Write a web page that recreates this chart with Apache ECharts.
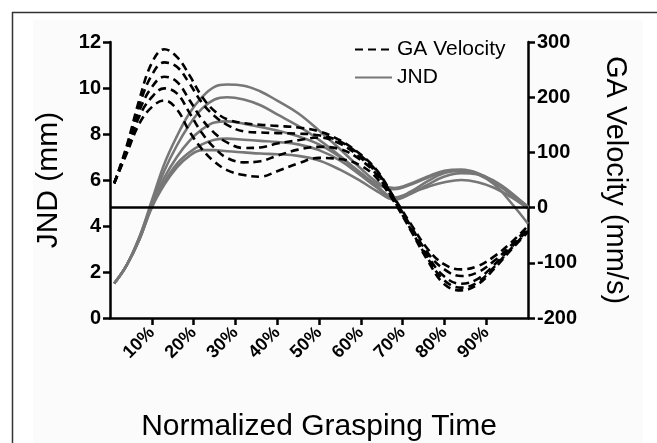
<!DOCTYPE html>
<html>
<head>
<meta charset="utf-8">
<script src="https://cdn.jsdelivr.net/npm/echarts@6/dist/echarts.min.js"></script>
<style>
  html, body { margin: 0; padding: 0; background: #fff; }
  #chart { width: 657px; height: 443px; }
</style>
</head>
<body>
<div id="chart"></div>
<script>
'use strict';

// normalized grasping time (%)
const timePct = [1, 4, 7, 10, 13, 16, 19, 22, 25, 28, 32, 36, 40, 45, 50, 55, 60, 64, 68, 72, 76, 80, 84, 88, 92, 96, 100];
const xTickValues = [10, 20, 30, 40, 50, 60, 70, 80, 90];

// GA velocity (mm/s), right axis
const velA = [44, 112, 195, 262, 287, 273, 240, 201, 175, 160, 153, 150, 148, 145, 138, 122, 96, 66, 18, -30, -75, -103, -112, -106, -88, -63, -33];
const velB = [44, 108, 185, 240, 263, 255, 225, 190, 166, 150, 138, 136, 135, 134, 131, 120, 94, 64, 16, -34, -82, -112, -124, -117, -96, -68, -36];
const velC = [44, 105, 175, 218, 237, 228, 195, 160, 135, 118, 108, 109, 116, 122, 127, 116, 90, 61, 14, -38, -88, -125, -138, -129, -103, -72, -40];
const velD = [44, 102, 165, 200, 216, 207, 172, 135, 108, 90, 82, 84, 94, 105, 110, 106, 86, 58, 12, -40, -92, -132, -145, -135, -107, -74, -42];
const velE = [44, 98, 152, 182, 194, 178, 138, 106, 83, 68, 59, 56, 66, 80, 90, 88, 76, 52, 10, -42, -96, -139, -150, -139, -110, -76, -44];

// JND (mm), left axis
const jnd1 = [1.5, 2.3, 3.5, 5.1, 6.7, 7.9, 8.9, 9.6, 10.05, 10.15, 10.1, 9.85, 9.45, 8.9, 8.15, 7.35, 6.5, 5.9, 5.65, 5.85, 6.15, 6.4, 6.45, 6.3, 5.9, 5.35, 4.8];
const jnd2 = [1.5, 2.3, 3.5, 5.0, 6.4, 7.5, 8.4, 9.1, 9.5, 9.6, 9.5, 9.25, 8.85, 8.35, 7.75, 7.05, 6.3, 5.8, 5.6, 5.8, 6.1, 6.35, 6.4, 6.25, 5.9, 5.4, 4.85];
const jnd3 = [1.5, 2.3, 3.4, 4.9, 6.1, 7.0, 7.7, 8.2, 8.5, 8.55, 8.45, 8.3, 8.15, 7.9, 7.55, 7.0, 6.3, 5.7, 5.25, 5.45, 5.7, 5.9, 6.0, 5.9, 5.65, 5.25, 4.75];
const jnd4 = [1.5, 2.3, 3.4, 4.85, 5.9, 6.7, 7.2, 7.55, 7.75, 7.8, 7.75, 7.7, 7.65, 7.55, 7.3, 6.85, 6.2, 5.65, 5.2, 5.5, 5.95, 6.3, 6.4, 6.25, 5.8, 5.0, 4.1];
const jnd5 = [1.5, 2.3, 3.4, 4.8, 5.8, 6.55, 7.05, 7.3, 7.3, 7.25, 7.2, 7.15, 7.12, 7.05, 6.85, 6.45, 5.95, 5.5, 5.15, 5.4, 5.8, 6.15, 6.3, 6.25, 5.95, 5.45, 4.8];

const velocityLines = [velA, velB, velC, velD, velE];
const jndLines = [jnd1, jnd2, jnd3, jnd4, jnd5];

const FONT = '"Liberation Sans", Arial, Helvetica, sans-serif';
const GRAY = '#777777';

function pairs(values) {
  return timePct.map((t, i) => [t, values[i]]);
}

const series = [];
jndLines.forEach(vals => {
  series.push({
    name: 'JND',
    type: 'line',
    yAxisIndex: 0,
    data: pairs(vals),
    smooth: 0.4,
    symbol: 'none',
    lineStyle: { color: GRAY, width: 2.6 },
    itemStyle: { color: GRAY },
    z: 2
  });
});
velocityLines.forEach((vals, i) => {
  const s = {
    name: 'GA Velocity',
    type: 'line',
    yAxisIndex: 1,
    data: pairs(vals),
    smooth: 0.4,
    symbol: 'none',
    lineStyle: { color: '#000', width: 2.6, type: [8, 5] },
    itemStyle: { color: '#000' },
    z: 3
  };
  if (i === 0) {
    // velocity zero line
    s.markLine = {
      silent: true,
      symbol: ['none', 'none'],
      label: { show: false },
      lineStyle: { color: '#000', width: 2.5, type: 'solid' },
      data: [{ yAxis: 0 }]
    };
  }
  series.push(s);
});

const axisLine = { show: true, lineStyle: { color: '#000', width: 2.5 } };
const axisTick = { show: true, length: 7, lineStyle: { color: '#000', width: 2.5 } };
const tickLabel = { color: '#000', fontFamily: FONT, fontWeight: 'bold', fontSize: 20 };

const chart = echarts.init(document.getElementById('chart'), null, { renderer: 'canvas' });
chart.setOption({
  animation: false,
  backgroundColor: '#fff',
  textStyle: { fontFamily: FONT },
  graphic: [
    { type: 'rect', silent: true, z: -10, shape: { x: 33, y: 20, width: 610, height: 430 }, style: { fill: '#fbfbfb' } },
    { type: 'line', silent: true, shape: { x1: 12, y1: 12.5, x2: 657, y2: 12.5 }, style: { stroke: '#333', lineWidth: 1.5 } },
    { type: 'line', silent: true, shape: { x1: 12.5, y1: 12, x2: 12.5, y2: 443 }, style: { stroke: '#333', lineWidth: 1.5 } }
  ],
  legend: {
    data: ['GA Velocity', 'JND'],
    orient: 'vertical',
    left: 349,
    top: 34,
    itemWidth: 37,
    itemHeight: 14,
    itemGap: 7,
    itemStyle: { opacity: 0 },
    textStyle: { color: '#000', fontSize: 21, fontFamily: FONT }
  },
  grid: { left: 110, right: 129, top: 42, bottom: 125, containLabel: false, outerBoundsMode: 'none' },
  xAxis: {
    type: 'value',
    min: 0,
    max: 100,
    interval: 10,
    axisLine: axisLine,
    axisTick: Object.assign({ customValues: xTickValues }, axisTick),
    splitLine: { show: false },
    axisLabel: Object.assign({}, tickLabel, {
      customValues: xTickValues,
      rotate: 45,
      margin: 12,
      fontSize: 18,
      formatter: v => v + '%'
    }),
    name: 'Normalized Grasping Time',
    nameLocation: 'middle',
    nameGap: 94,
    nameTextStyle: { color: '#000', fontSize: 30, fontFamily: FONT }
  },
  yAxis: [
    {
      type: 'value',
      position: 'left',
      min: 0,
      max: 12,
      interval: 2,
      axisLine: axisLine,
      axisTick: axisTick,
      splitLine: { show: false },
      axisLabel: Object.assign({ margin: 9 }, tickLabel),
      name: 'JND (mm)',
      nameLocation: 'middle',
      nameGap: 46,
      nameTextStyle: { color: '#000', fontSize: 30, fontFamily: FONT }
    },
    {
      type: 'value',
      position: 'right',
      min: -200,
      max: 300,
      interval: 100,
      axisLine: axisLine,
      axisTick: axisTick,
      splitLine: { show: false },
      axisLabel: Object.assign({ margin: 9 }, tickLabel),
      name: 'GA Velocity (mm/s)',
      nameLocation: 'middle',
      nameRotate: -90,
      nameGap: 72,
      nameTextStyle: { color: '#000', fontSize: 29, fontFamily: FONT }
    }
  ],
  series: series
});
</script>
</body>
</html>
